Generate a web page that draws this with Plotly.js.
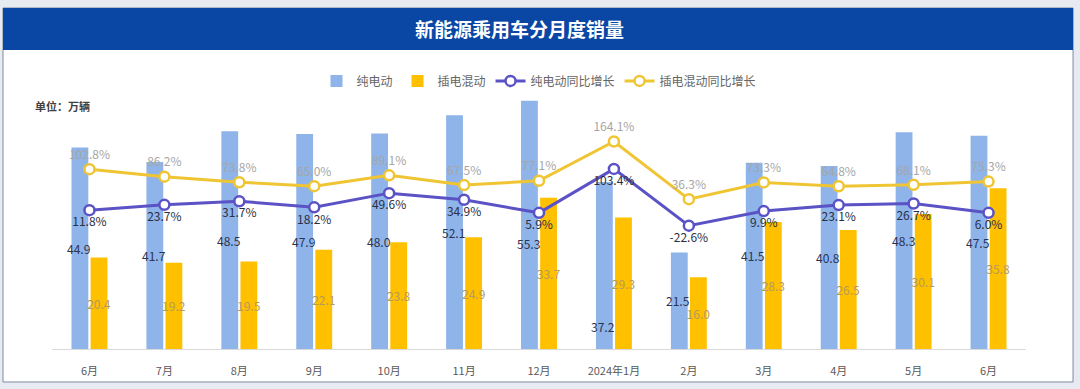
<!DOCTYPE html>
<html>
<head>
<meta charset="utf-8">
<script src="https://cdn.plot.ly/plotly-3.0.1.min.js"></script>
<style>html,body{margin:0;padding:0;background:#e8eaf2;}#chart{width:1080px;height:389px;}</style>
</head>
<body>
<div id="chart"></div>
<script>
const categories = ['6月','7月','8月','9月','10月','11月','12月','2024年1月','2月','3月','4月','5月','6月'];
const catKeys = ['2023-06','2023-07','2023-08','2023-09','2023-10','2023-11','2023-12','2024-01','2024-02','2024-03','2024-04','2024-05','2024-06'];
const bevSales = [44.9, 41.7, 48.5, 47.9, 48.0, 52.1, 55.3, 37.2, 21.5, 41.5, 40.8, 48.3, 47.5];
const phevSales = [20.4, 19.2, 19.5, 22.1, 23.8, 24.9, 33.7, 29.3, 16.0, 28.3, 26.5, 30.1, 35.8];
const bevYoY = [11.8, 23.7, 31.7, 18.2, 49.6, 34.9, 5.9, 103.4, -22.6, 9.9, 23.1, 26.7, 6.0];
const phevYoY = [102.8, 86.2, 73.8, 65.0, 89.1, 67.5, 77.1, 164.1, 36.3, 73.3, 64.8, 68.1, 75.3];
// pixel nudge of the pure-EV value labels (moved down where they would collide with line labels)
const bevLabelNudge = [0, 0, 0, 0, 0, 0, -19, -61, 0, 0, 0, 0, 0];

const FONT = '"Noto Sans CJK SC", "Noto Sans", sans-serif';

const traces = [
  {
    type: 'bar', name: '纯电动', x: catKeys, y: bevSales,
    marker: {color: '#8eb4e9'},
    hoverinfo: 'skip'
  },
  {
    type: 'bar', name: '插电混动', x: catKeys, y: phevSales,
    marker: {color: '#ffc000'},
    text: phevSales.map(v => v.toFixed(1)),
    textposition: 'inside', insidetextanchor: 'middle', textangle: 0,
    constraintext: 'none',
    textfont: {family: FONT, size: 12, color: '#b59b5a'},
    hoverinfo: 'skip'
  },
  {
    type: 'scatter', mode: 'lines+markers+text', name: '纯电动同比增长',
    x: catKeys, y: bevYoY, yaxis: 'y2',
    line: {color: '#5b52c6', width: 3},
    marker: {symbol: 'circle', size: 10, color: '#ffffff', line: {color: '#5b52c6', width: 2.5}},
    text: bevYoY.map(v => v.toFixed(1) + '%'),
    textposition: 'bottom center',
    textfont: {family: FONT, size: 12, color: '#2b2f42'},
    cliponaxis: false,
    hoverinfo: 'skip'
  },
  {
    type: 'scatter', mode: 'lines+markers+text', name: '插电混动同比增长',
    x: catKeys, y: phevYoY, yaxis: 'y2',
    line: {color: '#f0c534', width: 3},
    marker: {symbol: 'circle', size: 10, color: '#ffffff', line: {color: '#f0c534', width: 2.5}},
    text: phevYoY.map(v => v.toFixed(1) + '%'),
    textposition: 'top center',
    textfont: {family: FONT, size: 12, color: '#a6a6a6'},
    cliponaxis: false,
    hoverinfo: 'skip'
  }
];

const bevLabels = catKeys.map((k, i) => ({
  x: k, y: bevSales[i] / 2, xref: 'x', yref: 'y',
  text: bevSales[i].toFixed(1), showarrow: false,
  xshift: -10.5, yshift: bevLabelNudge[i],
  xanchor: 'center', yanchor: 'middle',
  font: {family: FONT, size: 12, color: '#2a3350'}
}));

const layout = {
  width: 1080, height: 389,
  margin: {l: 52, r: 54, t: 79, b: 40, pad: 0},
  paper_bgcolor: '#e8eaf2',
  plot_bgcolor: '#ffffff',
  font: {family: FONT, color: '#595959'},
  barmode: 'group',
  bargap: 0.49,
  bargroupgap: 0.12,
  showlegend: true,
  legend: {
    orientation: 'h', x: 0.5, xanchor: 'center', y: 0.993, yanchor: 'middle',
    font: {family: FONT, size: 12, color: '#666666'},
    bgcolor: 'rgba(0,0,0,0)', itemwidth: 30, traceorder: 'normal'
  },
  title: {
    text: '<b>新能源乘用车分月度销量</b>',
    font: {family: FONT, size: 19, color: '#ffffff'},
    x: 0.481, xref: 'container', xanchor: 'center',
    y: 0.923, yref: 'container', yanchor: 'middle'
  },
  xaxis: {
    type: 'category', range: [-0.5, 12.5],
    tickvals: catKeys, ticktext: categories,
    showline: true, linecolor: '#d9d9d9', linewidth: 1,
    showgrid: false, zeroline: false, ticks: '',
    ticklabelstandoff: 12,
    tickfont: {family: FONT, size: 11, color: '#595959'},
    fixedrange: true
  },
  yaxis: {
    range: [0, 60.17], showgrid: false, zeroline: false,
    showticklabels: false, showline: false, ticks: '', fixedrange: true
  },
  yaxis2: {
    overlaying: 'y', side: 'right', range: [-296, 302.7],
    showgrid: false, zeroline: false, showticklabels: false,
    showline: false, ticks: '', fixedrange: true
  },
  shapes: [
    {type: 'rect', xref: 'paper', yref: 'paper', layer: 'below',
     x0: -0.0503, x1: 1.0483, y0: -0.1222, y1: 1.263,
     fillcolor: '#ffffff', line: {color: '#7d8aa0', width: 1}},
    {type: 'rect', xref: 'paper', yref: 'paper', layer: 'below',
     x0: -0.0503, x1: 1.0483, y0: 1.1074, y1: 1.263,
     fillcolor: '#0a47a5', line: {width: 0}}
  ],
  annotations: [
    {text: '<b>单位：万辆</b>', xref: 'paper', yref: 'paper',
     x: -0.0195, y: 0.9, xanchor: 'left', yanchor: 'middle', showarrow: false,
     font: {family: FONT, size: 11, color: '#404040'}}
  ].concat(bevLabels)
};

Plotly.newPlot('chart', traces, layout, {displayModeBar: false, staticPlot: true});
</script>
</body>
</html>
